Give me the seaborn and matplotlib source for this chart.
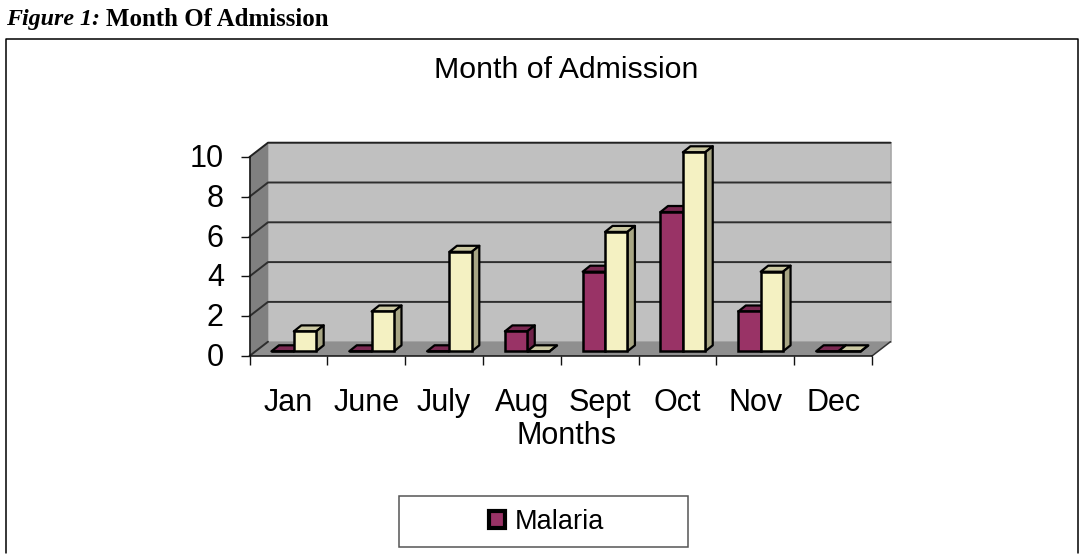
import matplotlib
matplotlib.use("Agg")
import matplotlib.pyplot as plt
import pandas as pd
import seaborn as sns
from matplotlib.lines import Line2D
from matplotlib.patches import Patch, Polygon, Rectangle
from matplotlib.transforms import ScaledTranslation

months = ["Jan", "June", "July", "Aug", "Sept", "Oct", "Nov", "Dec"]
malaria = [0, 0, 0, 1, 4, 7, 2, 0]
other = [1, 2, 5, 0, 6, 10, 4, 0]
y_ticks = [0, 2, 4, 6, 8, 10]

W, H = 1083, 560
sns.set_theme(style="white")
plt.rcParams["font.family"] = ["Liberation Sans", "DejaVu Sans"]

# colours: front, top, side
maroon = ("#993366", "#7a2851", "#6f2249")
cream = ("#f4f1c2", "#ccc9a3", "#a8a684")

df = pd.DataFrame({"month": months * 2,
                   "count": malaria + other,
                   "series": ["Malaria"] * 8 + ["Other"] * 8})

fig = plt.figure(figsize=(W / 100, H / 100), dpi=100)
fig.patch.set_facecolor("white")

# axes = front plane of the fake 3d box, everything in pixels from top left
left, right, y0, y10 = 249.5, 872, 356, 157
ax = fig.add_axes([left / W, 1 - y0 / H, (right - left) / W, (y0 - y10) / H])
ax.patch.set_alpha(0)

sns.barplot(data=df, x="month", y="count", hue="series", order=months,
            palette=[maroon[0], cream[0]], width=0.575, saturation=1,
            edgecolor="black", linewidth=1.8, legend=False, ax=ax)
ax.set_xlim(-0.5, 7.5)
ax.set_ylim(0, 10)

cat_px = (right - left) / 8
unit_px = (y0 - y10) / 10


def at(x, y, ox=0, oy=0):
    # data position moved by some pixels (oy is upwards)
    return (x + ox / cat_px, y + oy / unit_px)


# walls and floor
back_x, back_y = 18.5, 14.3
floor = [at(-0.5, 0), at(7.5, 0), at(7.5, 0, back_x, back_y), at(-0.5, 0, back_x, back_y)]
side = [at(-0.5, 0), at(-0.5, 10), at(-0.5, 10, back_x, back_y), at(-0.5, 0, back_x, back_y)]
wall = [at(-0.5, 0, back_x, back_y), at(7.5, 0, back_x, back_y),
        at(7.5, 10, back_x, back_y), at(-0.5, 10, back_x, back_y)]
ax.add_patch(Polygon(floor, fc="#8f8f8f", ec="none", zorder=0.5, clip_on=False))
ax.add_patch(Polygon(side, fc="#808080", ec="none", zorder=0.5, clip_on=False))
ax.add_patch(Polygon(wall, fc="#c0c0c0", ec="#a8a8a8", lw=1.2, zorder=0.4, clip_on=False))

for t in y_ticks:
    pts = [at(-0.5, t), at(-0.5, t, back_x, back_y), at(7.5, t, back_x, back_y)]
    if t == 0:
        pts = pts[:2]
    c = "#2e2e2e" if t < 10 else "#222222"
    ax.plot(*zip(*pts), color=c, lw=1.4, zorder=0.6, clip_on=False)
ax.plot(*zip(at(7.5, 0), at(7.5, 0, back_x, back_y)), color="#333333", lw=1.1, zorder=0.6, clip_on=False)

# bars sit a bit inside the box, and get a top and a side face
bar_x, bar_y = 5.4, 4.7
depth_x, depth_y = 7.5, 6
for k, cont in enumerate(ax.containers):
    cols = maroon if k == 0 else cream
    z = 3 + k
    for bar in cont:
        x0 = bar.get_x() + bar_x / cat_px
        x1 = x0 + bar.get_width()
        base = bar_y / unit_px
        top = base + bar.get_height()
        bar.set_x(x0)
        bar.set_y(base)
        bar.set_zorder(z + 0.2)
        bar.set_clip_on(False)
        ax.add_patch(Polygon([(x0, top), (x1, top), at(x1, top, depth_x, depth_y), at(x0, top, depth_x, depth_y)],
                             fc=cols[1], ec="black", lw=1.6, joinstyle="round", zorder=z + 0.1, clip_on=False))
        ax.add_patch(Polygon([(x1, base), (x1, top), at(x1, top, depth_x, depth_y), at(x1, base, depth_x, depth_y)],
                             fc=cols[2], ec="black", lw=1.6, joinstyle="round", zorder=z + 0.1, clip_on=False))

sns.despine(ax=ax)
for s in ["left", "bottom"]:
    ax.spines[s].set_color("#111111")
    ax.spines[s].set_linewidth(1.1)
    ax.spines[s].set_zorder(1)

ax.set_yticks(y_ticks)
ax.set_yticklabels(y_ticks)
ax.set_xticks([i - 0.5 for i in range(9)], minor=True)
ax.set_xticks(range(8))
ax.set_xticklabels(months)
ax.tick_params(axis="x", which="major", length=0, pad=23, labelsize=22, labelcolor="black")
ax.tick_params(axis="x", which="minor", bottom=True, length=6.5, width=1, color="#111111")
ax.tick_params(axis="y", left=True, length=6.5, width=1, color="#111111", pad=12, labelsize=22, labelcolor="black")
for lab in ax.get_yticklabels():
    lab.set_transform(lab.get_transform() + ScaledTranslation(0, 1.5 / 100, fig.dpi_scale_trans))
ax.set_xlabel("Months", fontsize=22, color="black", va="top")
ax.xaxis.set_label_coords(0.509, -0.325)
ax.set_ylabel("")

# legend only names the first series
leg = ax.legend(handles=[Patch(fc=maroon[0], ec="black", lw=3, label="Malaria")],
                loc="center", bbox_to_anchor=(546.5 / W, 1 - 522 / H), bbox_transform=fig.transFigure,
                frameon=False, fontsize=19.5, handlelength=0.58, handleheight=0.6, handletextpad=0.35)
for txt in leg.get_texts():
    txt.set_color("black")

# chart frame is open at the bottom
for xs, ys in [((5.5, 5.5, 1078, 1078), (553, 38.5, 38.5, 553))]:
    fig.add_artist(Line2D([x / W for x in xs], [1 - y / H for y in ys], color="black", lw=1.1))
fig.add_artist(Rectangle((398.5 / W, 1 - 547 / H), 289.5 / W, 51 / H, transform=fig.transFigure,
                         fc="none", ec="#555555", lw=1.1))

fig.text(566.5 / W, 1 - 69.5 / H, "Month of Admission", ha="center", va="center", fontsize=21.8, color="black")
fig.text(6 / W, 1 - 19 / H, "Figure 1:", ha="left", va="center", fontsize=17.3, color="black",
         family="Liberation Serif", style="italic", weight="bold")
fig.text(106 / W, 1 - 19 / H, "Month Of Admission", ha="left", va="center", fontsize=17.9, color="black",
         family="Liberation Serif", weight="bold")

fig.savefig("out.png", dpi=100)
